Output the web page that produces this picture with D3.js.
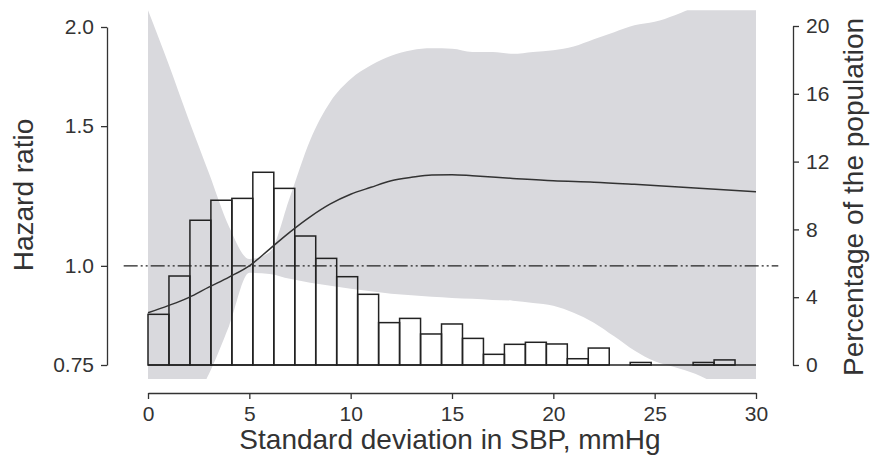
<!DOCTYPE html>
<html lang="en">
<head>
<meta charset="utf-8">
<script src="https://d3js.org/d3.v7.min.js"></script>
<style>
  body { margin: 0; background: #fff; }
  text { font-family: "Liberation Sans", Arial, sans-serif; fill: #333; }
</style>
</head>
<body>
<script>
// histogram: percentage of the population in each SD bin (29 bins over 0-30)
const binPct = [2.99, 5.25, 8.54, 9.72, 9.83, 11.37, 10.42, 7.61, 6.29, 5.21,
                4.17, 2.50, 2.75, 1.83, 2.42, 1.57, 0.63, 1.22, 1.34, 1.24,
                0.37, 1.00, 0, 0.15, 0, 0, 0.15, 0.30, 0];
const binWidth = 30 / 29;

// spline hazard ratio
const curveX  = [0, 1, 2, 3, 4, 5, 6, 7, 8, 9, 10, 11, 12, 13, 14, 15, 16, 18, 20, 22, 24, 26, 28, 30];
const curveHR = [0.873, 0.891, 0.912, 0.94, 0.968, 1.0, 1.05, 1.103, 1.153, 1.197, 1.231, 1.256,
                 1.28, 1.293, 1.302, 1.303, 1.299, 1.289, 1.28, 1.275, 1.267, 1.258, 1.249, 1.24];

// 95% CI band
const bandX     = [0, 1, 2, 3, 4, 5, 6, 7, 8, 9, 10, 11, 12, 13, 14, 15, 16, 17, 18, 19, 20,
                   21, 22, 23, 24, 25, 26, 27, 28, 29, 30];
const bandUpper = [2.10, 1.80, 1.53, 1.31, 1.12, 1.02, 1.04, 1.22, 1.44, 1.61, 1.72, 1.79, 1.84,
                   1.87, 1.88, 1.878, 1.86, 1.86, 1.85, 1.86, 1.87, 1.89, 1.93, 1.97, 2.01, 2.03,
                   2.07, 2.12, 2.16, 2.20, 2.24];
const bandLower = [0.60, 0.62, 0.66, 0.73, 0.84, 0.98, 0.977, 0.963, 0.952, 0.944, 0.936, 0.929,
                   0.922, 0.918, 0.914, 0.911, 0.909, 0.906, 0.904, 0.898, 0.891, 0.873, 0.848,
                   0.815, 0.782, 0.758, 0.745, 0.731, 0.712, 0.70, 0.69];

const xTicks = [0, 5, 10, 15, 20, 25, 30];
const hrTicks = [0.75, 1.0, 1.5, 2.0];
const pctTicks = [0, 4, 8, 12, 16, 20];
const hrView = [0.72, 2.1];       // visible range of the band
const refExtent = [-1.2, 31.1];   // reference line at HR = 1

const W = 870, H = 458;
const plotL = 148, plotR = 756, plotT = 27, plotB = 365;

const svg = d3.select("body").append("svg")
  .attr("width", W).attr("height", H);

const x = d3.scaleLinear().domain([0, 30]).range([plotL, plotR]);
const yHR = d3.scaleLog().domain([0.75, 2.0]).range([plotB, plotT]);
const yPct = d3.scaleLinear().domain([0, 20]).range([plotB, 26]);

svg.append("clipPath").attr("id", "plotClip")
  .append("rect")
  .attr("x", x(0)).attr("y", yHR(hrView[1]))
  .attr("width", x(30) - x(0))
  .attr("height", yHR(hrView[0]) - yHR(hrView[1]));

// CI band
const band = bandX.map((v, i) => ({x: v, lo: bandLower[i], hi: bandUpper[i]}));
svg.append("path")
  .datum(band)
  .attr("clip-path", "url(#plotClip)")
  .attr("fill", "#d9d9dd")
  .attr("d", d3.area()
    .curve(d3.curveMonotoneX)
    .x(d => x(d.x))
    .y0(d => yHR(d.lo))
    .y1(d => yHR(d.hi)));

// histogram
svg.append("line")
  .attr("x1", x(0)).attr("x2", x(30))
  .attr("y1", yPct(0)).attr("y2", yPct(0))
  .attr("stroke", "#222").attr("stroke-width", 1.5);

svg.append("g").selectAll("rect")
  .data(binPct)
  .enter().append("rect")
  .attr("x", (d, i) => x(i * binWidth))
  .attr("width", (d, i) => x((i + 1) * binWidth) - x(i * binWidth))
  .attr("y", d => yPct(d))
  .attr("height", d => yPct(0) - yPct(d))
  .attr("fill", "none")
  .attr("stroke", "#222")
  .attr("stroke-width", 1.5);

// reference line HR = 1
svg.append("line")
  .attr("x1", x(refExtent[0])).attr("x2", x(refExtent[1]))
  .attr("y1", yHR(1)).attr("y2", yHR(1))
  .attr("stroke", "#222").attr("stroke-width", 1.3)
  .attr("stroke-dasharray", "14,3,2,3,2,3");

// HR curve
svg.append("path")
  .datum(curveX.map((v, i) => ({x: v, y: curveHR[i]})))
  .attr("fill", "none")
  .attr("stroke", "#333")
  .attr("stroke-width", 1.5)
  .attr("d", d3.line().curve(d3.curveMonotoneX)
    .x(d => x(d.x)).y(d => yHR(d.y)));

// axes
function styleAxis(g) {
  g.selectAll("path, line").attr("stroke", "#333").attr("stroke-width", 1.3);
  g.selectAll("text").style("font-size", "21px").attr("fill", "#333");
}

svg.append("g")
  .attr("transform", "translate(0,393)")
  .call(d3.axisBottom(x).tickValues(xTicks).tickSize(6).tickSizeOuter(0).tickPadding(7))
  .call(g => g.attr("font-family", null).attr("font-size", null))
  .call(styleAxis);

svg.append("g")
  .attr("transform", "translate(107,0)")
  .call(d3.axisLeft(yHR).tickValues(hrTicks).tickSize(6).tickSizeOuter(0).tickPadding(7)
    .tickFormat(d => d === 0.75 ? "0.75" : d3.format(".1f")(d)))
  .call(g => g.attr("font-family", null).attr("font-size", null))
  .call(styleAxis);

svg.append("g")
  .attr("transform", "translate(793,0)")
  .call(d3.axisRight(yPct).tickValues(pctTicks).tickSize(6).tickSizeOuter(0).tickPadding(7))
  .call(g => g.attr("font-family", null).attr("font-size", null))
  .call(styleAxis);

// titles
svg.append("text")
  .attr("x", 450).attr("y", 449)
  .attr("text-anchor", "middle")
  .style("font-size", "28px")
  .text("Standard deviation in SBP, mmHg");

svg.append("text")
  .attr("transform", "translate(33,195) rotate(-90)")
  .attr("text-anchor", "middle")
  .style("font-size", "28px")
  .text("Hazard ratio");

svg.append("text")
  .attr("transform", "translate(863,197) rotate(-90)")
  .attr("text-anchor", "middle")
  .style("font-size", "28px")
  .text("Percentage of the population");
</script>
</body>
</html>
